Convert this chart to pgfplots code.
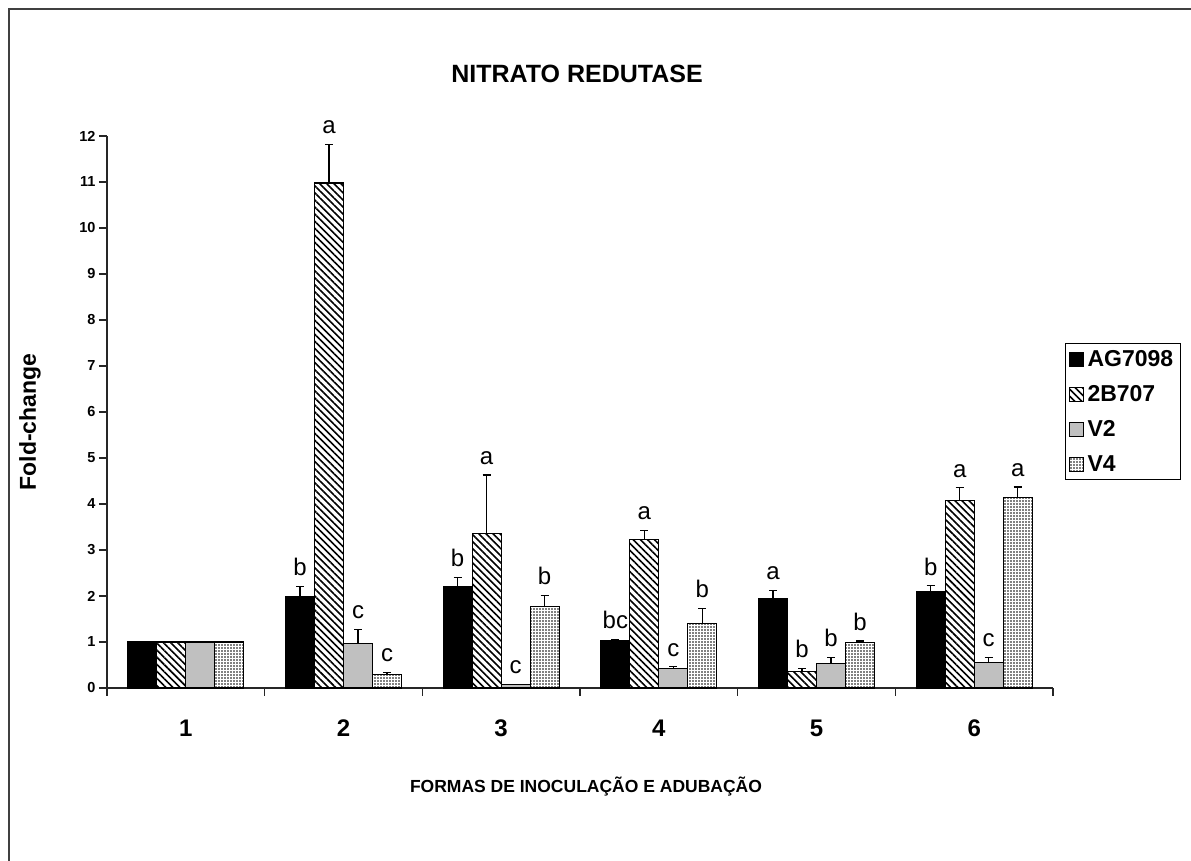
\documentclass[border=0pt]{standalone}
\usepackage{pgfplots}
\pgfplotsset{compat=1.18}
\usepackage{pgfplotstable}
\usepackage{fontspec}
\setmainfont{Liberation Sans}
\usetikzlibrary{patterns,patterns.meta}
\definecolor{vtwo}{HTML}{C0C0C0}

\pgfplotstableread{
x y e l
1 1.00 0 {}
2 1.98 0.22 b
3 2.20 0.20 b
4 1.03 0.03 bc
5 1.95 0.17 a
6 2.09 0.13 b
}\tabA
\pgfplotstableread{
x y e l
1 1.00 0 {}
2 10.98 0.84 a
3 3.36 1.27 a
4 3.22 0.20 a
5 0.35 0.07 b
6 4.07 0.28 a
}\tabB
\pgfplotstableread{
x y e l
1 1.00 0 {}
2 0.96 0.31 c
3 0.08 0 c
4 0.42 0.04 c
5 0.54 0.13 b
6 0.56 0.11 c
}\tabC
\pgfplotstableread{
x y e l
1 1.00 0 {}
2 0.30 0.04 c
3 1.77 0.24 b
4 1.41 0.32 b
5 0.99 0.03 b
6 4.14 0.23 a
}\tabD

\pgfplotsset{lbl/.style={
  point meta=explicit symbolic,
  nodes near coords,
  visualization depends on={\thisrow{e} \as \err},
  nodes near coords style={font=\fontsize{24}{24}\selectfont, inner sep=2pt, yshift={\err*46pt+8pt}},
}}

\begin{document}
\begin{tikzpicture}
\path[use as bounding box] (0,0) rectangle (1191pt,861pt);
\draw[line width=1.5pt, black!75] (9pt,0) -- (9pt,852pt) -- (1191pt,852pt);
\node[font=\bfseries\fontsize{25}{25}\selectfont] at (577pt,787pt) {NITRATO REDUTASE};
\node[font=\bfseries\fontsize{17.5}{17.5}\selectfont] at (586pt,74pt) {FORMAS DE INOCULAÇÃO E ADUBAÇÃO};
\node[font=\bfseries\fontsize{23}{23}\selectfont, rotate=90] at (30pt,439pt) {Fold-change};
\begin{axis}[
  at={(107pt,173pt)}, anchor=south west,
  scale only axis, width=946pt, height=552pt,
  ybar=0pt, bar width=29pt,
  xmin=0.5, xmax=6.5, ymin=0, ymax=12,
  axis x line*=bottom, axis y line*=left,
  axis line style={line width=1.2pt, black!85, -},
  xtick={0.5,1.5,...,6.5},
  x tick label as interval,
  xticklabels={1,2,3,4,5,6},
  ytick={0,1,...,12},
  tick align=outside,
  major tick length=8pt,
  tick style={line width=1.2pt, black!85},
  /pgf/number format/assume math mode=true,
  xticklabel style={font=\bfseries\fontsize{24}{24}\selectfont, yshift=-20pt},
  yticklabel style={font=\bfseries\fontsize{14.5}{14.5}\selectfont},
  clip=false,
  error bars/y dir=plus,
  error bars/y explicit,
  error bars/error bar style={line width=1.2pt, black},
  error bars/error mark options={rotate=90, line width=1.2pt, mark size=4pt, black},
  legend image code/.code={\draw[#1, line width=1pt] (1pt,-7pt) rectangle (15pt,7pt);},
  legend cell align=left,
  legend style={at={(1.0127,0.625)}, anchor=north west, draw=black, line width=1pt,
    font=\bfseries\fontsize{23}{23}\selectfont, inner xsep=3pt, inner ysep=5pt, row sep=13.5pt,
    nodes={inner xsep=4pt}},
]
\addplot[fill=black, draw=black, line width=1.2pt, lbl] table[x=x, y=y, y error=e, meta=l] {\tabA};
\addplot[draw=black, line width=1.2pt, pattern={Lines[angle=-45, distance=5pt, line width=1.6pt]}, lbl] table[x=x, y=y, y error=e, meta=l] {\tabB};
\addplot[fill=vtwo, draw=black, line width=1.2pt, lbl] table[x=x, y=y, y error=e, meta=l] {\tabC};
\addplot[draw=black, line width=1.2pt, pattern={Dots[distance=3pt, radius=0.9pt]}, lbl] table[x=x, y=y, y error=e, meta=l] {\tabD};
\legend{AG7098, 2B707, V2, V4}
\end{axis}
\end{tikzpicture}
\end{document}
